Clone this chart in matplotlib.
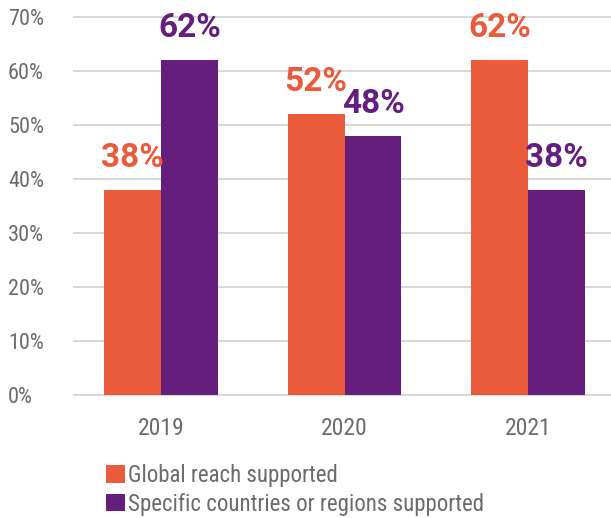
import numpy as np
import matplotlib
matplotlib.use("Agg")
import matplotlib.pyplot as plt
from matplotlib.patches import Patch

plt.rcParams["font.family"] = ["Roboto Condensed", "Roboto", "DejaVu Sans"]

years = ["2019", "2020", "2021"]
global_reach = [38, 52, 62]
specific_regions = [62, 48, 38]
series_names = ["Global reach supported", "Specific countries or regions supported"]
y_ticks = [0, 10, 20, 30, 40, 50, 60, 70]

ORANGE = "#EA5B3B"
PURPLE = "#661E7D"
GRAY_TEXT = "#6b6b6b"
GRID = "#d9d9d9"

fig = plt.figure(figsize=(6.11, 5.18), dpi=100)
ax = fig.add_axes([74 / 611, 123 / 518, 537 / 611, 378 / 518])

x = np.arange(len(years))
w = 0.31
b1 = ax.bar(x - w / 2, global_reach, w, color=ORANGE, zorder=3)
b2 = ax.bar(x + w / 2, specific_regions, w, color=PURPLE, zorder=3)

# value labels above each bar
for bars, vals, col in [(b1, global_reach, ORANGE), (b2, specific_regions, PURPLE)]:
    for bar, v in zip(bars, vals):
        ax.annotate(f"{v}%", (bar.get_x() + bar.get_width() / 2, v),
                    xytext=(0, 16.5), textcoords="offset points",
                    ha="center", va="baseline", color=col,
                    fontsize=24, fontweight="bold", family="Roboto")

ax.set_xlim(-0.474, 2.452)
ax.set_ylim(0, 70)
ax.set_xticks(x)
ax.set_xticklabels(years)
ax.set_yticks(y_ticks)
ax.set_yticklabels([f"{t}%" for t in y_ticks])
ax.tick_params(axis="x", length=0, pad=15.8, labelsize=17, labelcolor=GRAY_TEXT)
ax.tick_params(axis="y", length=0, pad=47.5, labelsize=16, labelcolor=GRAY_TEXT)
for lbl in ax.get_yticklabels():
    lbl.set_horizontalalignment("left")

for s in ax.spines.values():
    s.set_visible(False)
ax.yaxis.grid(True, color=GRID, linewidth=1.5)
ax.set_axisbelow(True)
for gl in ax.get_ygridlines():
    gl.set_clip_on(False)

handles = [Patch(facecolor=ORANGE), Patch(facecolor=PURPLE)]
fig.legend(handles, series_names, loc="upper left",
           bbox_to_anchor=(106 / 611, 1 - 464 / 518),
           frameon=False, fontsize=16.5, labelcolor=GRAY_TEXT,
           handlelength=0.82, handleheight=0.78, handletextpad=0.15,
           labelspacing=0.25, borderpad=0, borderaxespad=0)

fig.savefig("out.png", dpi=100)
